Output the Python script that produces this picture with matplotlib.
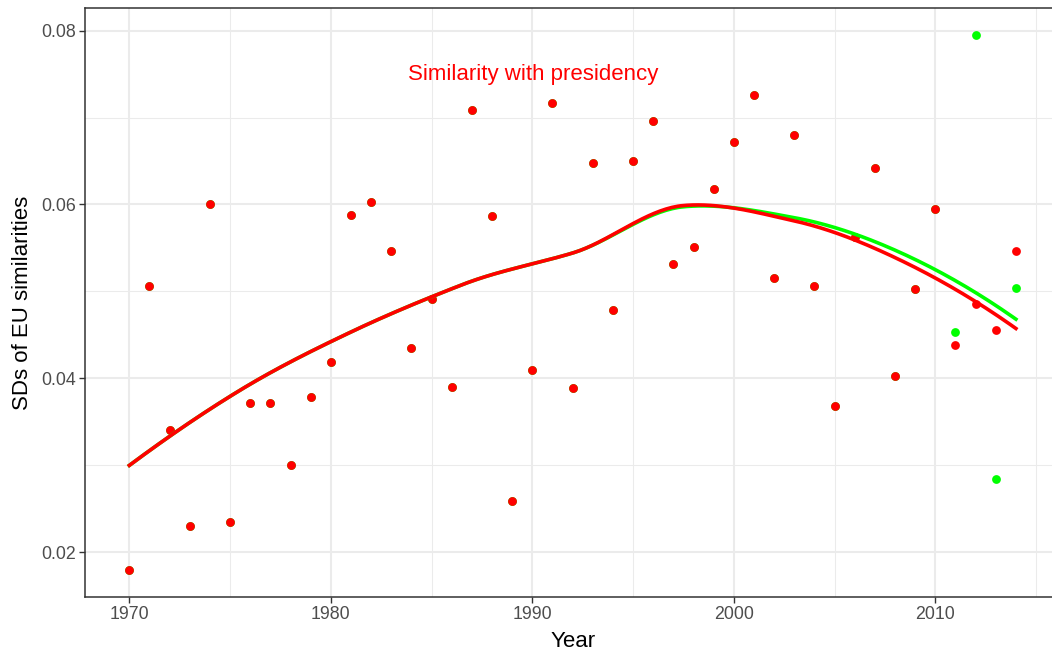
import numpy as np
import matplotlib
matplotlib.use("Agg")
import matplotlib.pyplot as plt

years = list(range(1970, 2015))
sim_eu = [0.0179, 0.0506, 0.0341, 0.0230, 0.0600, 0.0235, 0.0372, 0.0372, 0.0300, 0.0379,
          0.0419, 0.0588, 0.0603, 0.0547, 0.0435, 0.0491, 0.0390, 0.0709, 0.0587, 0.0259,
          0.0410, 0.0717, 0.0389, 0.0648, 0.0479, 0.0650, 0.0696, 0.0531, 0.0551, 0.0618,
          0.0672, 0.0726, 0.0516, 0.0680, 0.0506, 0.0368, 0.0563, 0.0642, 0.0403, 0.0503,
          0.0595, 0.0438, 0.0485, 0.0456, 0.0547]
sim_pres = [0.0179, 0.0506, 0.0341, 0.0230, 0.0600, 0.0235, 0.0372, 0.0372, 0.0300, 0.0379,
            0.0419, 0.0588, 0.0603, 0.0547, 0.0435, 0.0491, 0.0390, 0.0709, 0.0587, 0.0259,
            0.0410, 0.0717, 0.0389, 0.0648, 0.0479, 0.0650, 0.0696, 0.0531, 0.0551, 0.0618,
            0.0672, 0.0726, 0.0516, 0.0680, 0.0506, 0.0368, 0.0563, 0.0642, 0.0403, 0.0503,
            0.0595, 0.0453, 0.0795, 0.0284, 0.0504]
annotation = "Similarity with presidency"


def local_fit(x, y, x0, q):
    n = len(x)
    d = np.abs(x - x0)
    h = np.sort(d)[q - 1]
    w = np.clip(1 - (d / h) ** 3, 0, None) ** 3
    X = np.vstack([np.ones(n), x - x0, (x - x0) ** 2]).T
    W = np.sqrt(w)
    beta, *_ = np.linalg.lstsq(X * W[:, None], y * W, rcond=None)
    return beta[0], beta[1]


def kd_vertices(x, fc):
    verts = {x.min(), x.max()}

    def split(lo, hi):
        pts = x[(x >= lo) & (x <= hi)]
        if len(pts) <= fc:
            return
        m = np.median(pts)
        verts.add(m)
        split(lo, m)
        split(m, hi)
    split(x.min(), x.max())
    return np.array(sorted(verts))


def loess(x, y, xs, span=0.75):
    # loess with kd-tree vertices + cubic Hermite interpolation (like R's surface="interpolate")
    x = np.asarray(x, float)
    y = np.asarray(y, float)
    n = len(x)
    q = int(np.floor(n * span))
    fc = int(np.floor(n * span * 0.2))
    v = kd_vertices(x, fc)
    fv = np.array([local_fit(x, y, vi, q) for vi in v])
    out = np.empty_like(xs)
    for i, t in enumerate(xs):
        k = min(np.searchsorted(v, t, side="right") - 1, len(v) - 2)
        x0, x1 = v[k], v[k + 1]
        hh = x1 - x0
        s = (t - x0) / hh
        h00 = 2 * s**3 - 3 * s**2 + 1
        h10 = s**3 - 2 * s**2 + s
        h01 = -2 * s**3 + 3 * s**2
        h11 = s**3 - s**2
        out[i] = (h00 * fv[k, 0] + h10 * hh * fv[k, 1]
                  + h01 * fv[k + 1, 0] + h11 * hh * fv[k + 1, 1])
    return out


xs = np.linspace(1970, 2014, 300)

FONT = "Liberation Sans"
fig = plt.figure(figsize=(10.52, 6.53), dpi=100)
ax_w_px = 48.4 * 20.15
ax = fig.add_axes([85 / 1052, 56 / 653, ax_w_px / 1052, 589 / 653])

green = "#00FF00"
red = "#FF0000"
ax.scatter(years, sim_pres, s=40, color=green, zorder=3, linewidths=0)
ax.scatter(years, sim_eu, s=40, color=red, zorder=4, linewidths=0)
ax.plot(xs, loess(years, sim_pres, xs), color=green, lw=2.6, zorder=5)
ax.plot(xs, loess(years, sim_eu, xs), color=red, lw=2.6, zorder=6)

ax.text(1990.02, 0.0749, annotation, color=red, fontsize=16, ha="center", va="center",
        family=FONT)

ax.set_xlim(1967.8, 2016.2)
ax.set_ylim(0.01485, 0.0826)
ax.set_xticks([1970, 1980, 1990, 2000, 2010])
ax.set_xticks([1975, 1985, 1995, 2005, 2015], minor=True)
ax.set_yticks([0.02, 0.04, 0.06, 0.08])
ax.set_yticklabels(["0.02", "0.04", "0.06", "0.08"])
ax.set_yticks([0.03, 0.05, 0.07], minor=True)
ax.grid(True, which="major", color="#EBEBEB", lw=1.5, zorder=0)
ax.grid(True, which="minor", color="#EBEBEB", lw=0.75, zorder=0)
ax.set_axisbelow(True)
for s in ax.spines.values():
    s.set_color("#333333")
    s.set_linewidth(1.1)
ax.tick_params(which="major", length=4, color="#333333", labelcolor="#4D4D4D",
               labelsize=12.8, width=1.0, pad=2.5)
ax.tick_params(which="minor", length=0)
for lab in ax.get_xticklabels() + ax.get_yticklabels():
    lab.set_family(FONT)
ax.set_xlabel("Year", fontsize=16, family=FONT, labelpad=6)
ax.set_ylabel("SDs of EU similarities", fontsize=16, family=FONT, labelpad=6)

fig.savefig("out.png", dpi=100)
